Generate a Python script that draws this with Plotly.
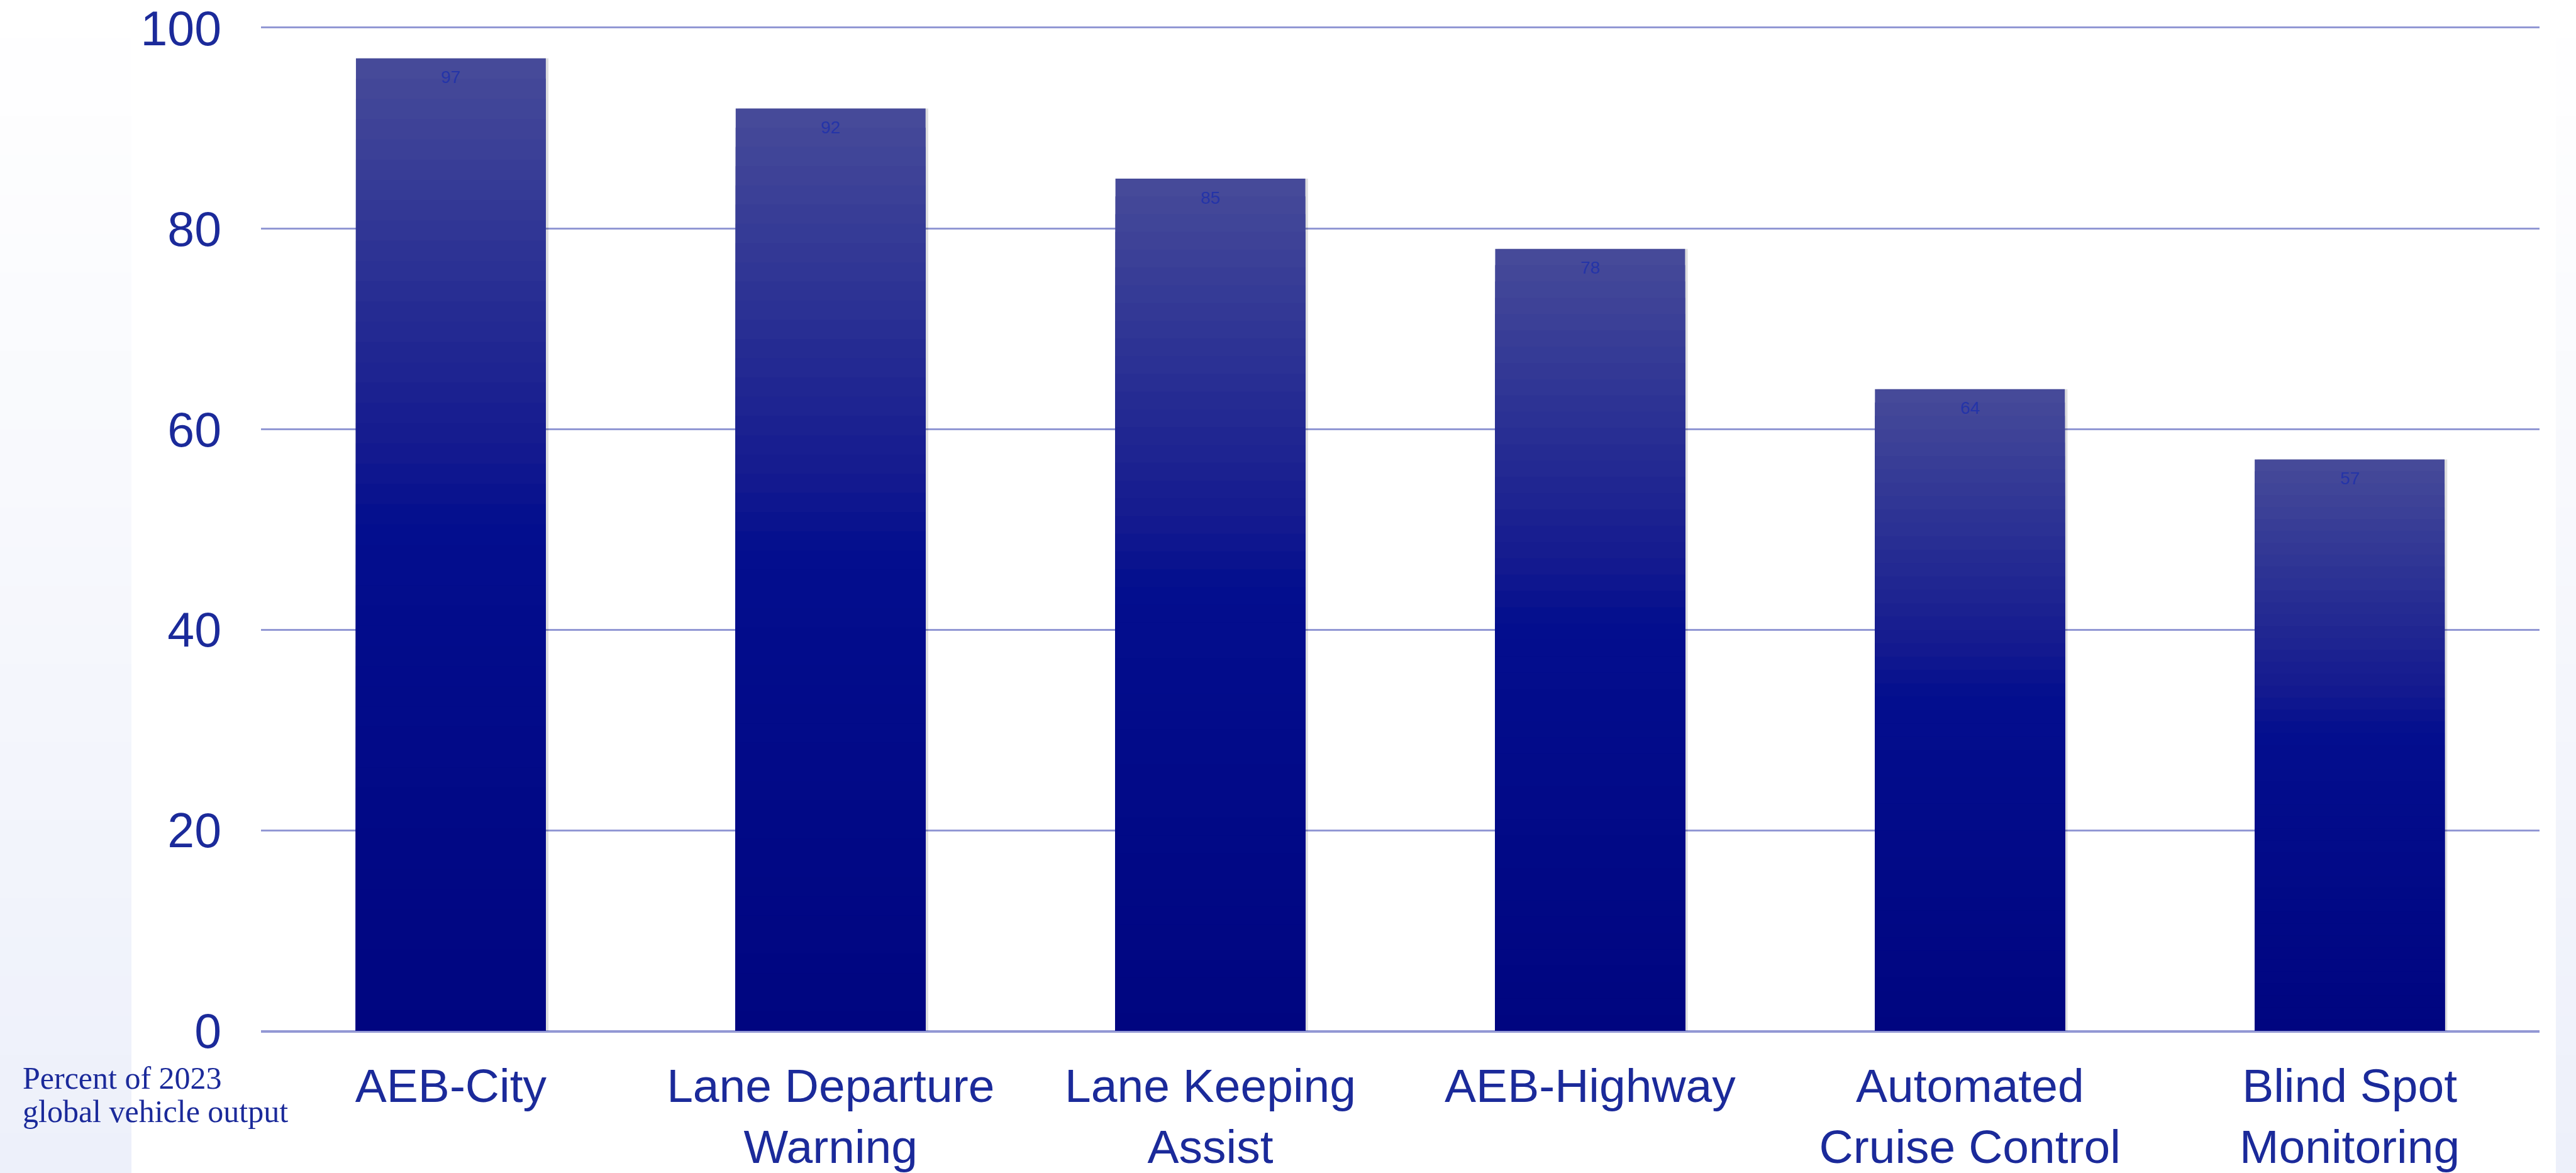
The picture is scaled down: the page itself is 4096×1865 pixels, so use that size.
import plotly.graph_objects as go

# ---------------- data ----------------
categories = ["AEB-City", "Lane Departure<br>Warning", "Lane Keeping<br>Assist",
              "AEB-Highway", "Automated<br>Cruise Control", "Blind Spot<br>Monitoring"]
values = [97, 92, 85, 78, 64, 57]
y_ticks = [0, 20, 40, 60, 80, 100]
axis_note = ["Percent of 2023", "global vehicle output"]

# ---------------- layout constants ----------------
W, H = 4096, 1865
ML, MR, MT, MB = 415, 58, 45, 226
PW, PH = W - ML - MR, H - MT - MB

TEXT = "#1b2a9a"
GRID = "#9298d4"
LABEL = "#2434a8"

STOPS = [(0.0, (71, 75, 153)), (0.2, (45, 51, 148)), (0.4, (20, 26, 143)),
         (0.48, (3, 14, 142)), (1.0, (0, 5, 128))]


def grad(t):
    for (t0, c0), (t1, c1) in zip(STOPS[:-1], STOPS[1:]):
        if t <= t1:
            f = (t - t0) / (t1 - t0) if t1 > t0 else 0
            c = [round(a + (b - a) * f) for a, b in zip(c0, c1)]
            return "rgb(%d,%d,%d)" % tuple(c)
    return "rgb(%d,%d,%d)" % STOPS[-1][1]


def px_x(px):
    return (px - ML) / PW


def px_y(py):
    return (H - MB - py) / PH


fig = go.Figure()

# soft shadow behind the bars
fig.add_trace(go.Bar(x=categories, y=values, width=0.5, offset=-0.243,
                     marker=dict(color="rgba(0,0,0,0.13)", line_width=0),
                     hoverinfo="skip", showlegend=False))

# bars with a vertical gradient (layers overlaid from full height down)
N = 48
for k in range(N):
    frac = 1 - k / N
    t = (k + 0.5) / N
    fig.add_trace(go.Bar(x=categories, y=[v * frac for v in values], width=0.5,
                         marker=dict(color=grad(t), line_width=0),
                         hoverinfo="skip", showlegend=False))

# data labels
for c, v in zip(categories, values):
    fig.add_annotation(x=c, y=v, xref="x", yref="y", text=str(v), showarrow=False,
                       yanchor="middle", yshift=-30,
                       font=dict(family="Liberation Sans, Arial", size=28, color=LABEL))

# axis note (bottom-left)
for line, py in zip(axis_note, [1714, 1767]):
    fig.add_annotation(x=px_x(34), y=px_y(py), xref="paper", yref="paper", text=line,
                       showarrow=False, xanchor="left", yanchor="middle",
                       font=dict(family="Liberation Serif, Times New Roman", size=50, color=TEXT))

# side gradient strips
shapes = []
BANDS = 30
for (xa, xb) in [(0, 209), (4064, W)]:
    for b in range(BANDS):
        y0 = H * b / BANDS
        y1 = H * (b + 1) / BANDS
        t = (b + 0.5) / BANDS
        r = round(255 + (237 - 255) * t)
        g = round(255 + (240 - 255) * t)
        bl = round(255 + (250 - 255) * t)
        shapes.append(dict(type="rect", xref="paper", yref="paper",
                           x0=px_x(xa), x1=px_x(xb), y0=px_y(y1), y1=px_y(y0) + 0.001,
                           fillcolor="rgb(%d,%d,%d)" % (r, g, bl), line_width=0, layer="below"))

fig.update_layout(
    width=W, height=H, autosize=False,
    margin=dict(l=ML, r=MR, t=MT, b=MB, pad=0, autoexpand=False),
    paper_bgcolor="white", plot_bgcolor="rgba(0,0,0,0)",
    barmode="overlay", showlegend=False,
    shapes=shapes,
    font=dict(family="Liberation Sans, Arial", color=TEXT),
    xaxis=dict(type="category", range=[-0.5, 5.5], showgrid=False, zeroline=False,
               showline=True, mirror=True, linecolor=GRID, linewidth=2.5,
               ticks="", ticklabelstandoff=20, automargin=False,
               tickfont=dict(family="Liberation Sans, Arial", size=75, color=TEXT)),
    yaxis=dict(range=[0, 100], tickvals=y_ticks, showgrid=True, gridcolor=GRID, gridwidth=2.5,
               zeroline=True, zerolinecolor=GRID, zerolinewidth=3, showline=False,
               ticks="", ticklabelstandoff=62, automargin=False,
               tickfont=dict(family="Liberation Sans, Arial", size=77, color=TEXT)),
)

fig.write_html("out.html")
